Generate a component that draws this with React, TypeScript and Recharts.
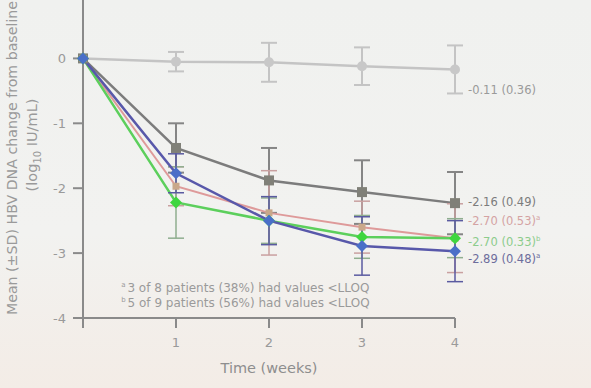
import React from 'react';
import { LineChart, Line, XAxis, YAxis, ErrorBar, ReferenceDot } from 'recharts';

const weeks = [0, 1, 2, 3, 4];
const placebo = [0, -0.05, -0.06, -0.12, -0.17];
const placeboSd = [0, 0.15, 0.3, 0.29, 0.37];
const darkGray = [0, -1.38, -1.88, -2.06, -2.23];
const darkGraySd = [0, 0.38, 0.5, 0.49, 0.48];
const pink = [0, -1.97, -2.38, -2.6, -2.77];
const pinkSd = [0, 0.3, 0.65, 0.4, 0.53];
const green = [0, -2.22, -2.5, -2.75, -2.77];
const greenSd = [0, 0.55, 0.35, 0.33, 0.3];
const blue = [0, -1.77, -2.5, -2.89, -2.97];
const blueSd = [0, 0.3, 0.37, 0.45, 0.47];

const yTicks = [-4, -3, -2, -1, 0];
const xTicks = [0, 1, 2, 3, 4];

const endLabels = [
  { y: -0.49, main: '-0.11 (0.36)', sup: '', color: '#9a9a9a' },
  { y: -2.22, main: '-2.16 (0.49)', sup: '', color: '#7c7c7c' },
  { y: -2.5, main: '-2.70 (0.53)', sup: 'a', color: '#d4a3a3' },
  { y: -2.83, main: '-2.70 (0.33)', sup: 'b', color: '#8ccc8c' },
  { y: -3.09, main: '-2.89 (0.48)', sup: 'a', color: '#6d6d9c' },
];

const footnotes = [
  { y: -3.6, sup: 'a', text: '3 of 8 patients (38%) had values <LLOQ' },
  { y: -3.83, sup: 'b', text: '5 of 9 patients (56%) had values <LLOQ' },
];

const data = weeks.map((w, i) => ({
  week: w,
  placebo: placebo[i], placeboSd: placeboSd[i],
  darkGray: darkGray[i], darkGraySd: darkGraySd[i],
  pink: pink[i], pinkSd: pinkSd[i],
  green: green[i], greenSd: greenSd[i],
  blue: blue[i], blueSd: blueSd[i],
}));

const FONT = '"DejaVu Sans", Verdana, sans-serif';

const circleDot = (color: string, r: number) => (p: any) =>
  p.cx == null ? <g key={p.key} /> : <circle key={p.key} cx={p.cx} cy={p.cy} r={r} fill={color} stroke="none" />;
const squareDot = (color: string, s: number) => (p: any) =>
  p.cx == null ? <g key={p.key} /> : <rect key={p.key} x={p.cx - s / 2} y={p.cy - s / 2} width={s} height={s} fill={color} stroke="none" />;
const diamondDot = (color: string, s: number) => (p: any) =>
  p.cx == null ? <g key={p.key} /> : (
    <path key={p.key} d={`M${p.cx},${p.cy - s} L${p.cx + s},${p.cy} L${p.cx},${p.cy + s} L${p.cx - s},${p.cy} Z`} fill={color} />
  );

const YLabel = () => (
  <g fill="#9a9a9a" fontFamily={FONT}>
    <text transform="translate(17,158) rotate(-90)" textAnchor="middle" fontSize={14.2}>
      Mean (±SD) HBV DNA change from baseline
    </text>
    <text transform="translate(37,145) rotate(-90)" textAnchor="middle" fontSize={14.5}>
      (log<tspan fontSize={10} dy={4}>10</tspan><tspan dy={-4}> IU/mL)</tspan>
    </text>
  </g>
);

const XTick = (p: any) => (
  <text x={p.x} y={p.y} dy={17} textAnchor="middle" fill="#9a9a9a" fontSize={13} fontFamily={FONT}>
    {p.payload.value === 0 ? '' : p.payload.value}
  </text>
);

export default function App() {
  return (
    <div style={{ position: 'absolute', left: 0, top: 0, width: 591, height: 388, background: 'linear-gradient(180deg, #f0f1ef 0%, #f2f2f0 60%, #f3ece6 100%)' }}>
      <LineChart width={591} height={388} data={data} margin={{ top: 0, right: 136, bottom: 40, left: 23 }}>
        <XAxis
          dataKey="week"
          type="number"
          domain={[0, 4]}
          ticks={xTicks}
          stroke="#8a8a8a"
          strokeWidth={2}
          tickSize={10}
          height={30}
          tick={<XTick />}
          label={{ value: 'Time (weeks)', position: 'insideBottom', offset: -25, fill: '#8e8e8e', fontSize: 14.5, fontFamily: FONT }}
        />
        <YAxis
          type="number"
          domain={[-4, 0.9]}
          ticks={yTicks}
          allowDataOverflow
          stroke="#8a8a8a"
          strokeWidth={2}
          tickSize={10}
          tickMargin={7}
          width={60}
          tick={{ fill: '#9a9a9a', fontSize: 13, fontFamily: FONT }}
          label={{ content: () => <YLabel /> }}
        />
        <Line dataKey="placebo" stroke="#c4c4c4" strokeWidth={2.5} isAnimationActive={false} dot={circleDot('#c8c8c8', 5)}>
          <ErrorBar dataKey="placeboSd" stroke="#c4c4c4" strokeWidth={2} width={8} />
        </Line>
        <Line dataKey="darkGray" stroke="#7c7c7c" strokeWidth={2.5} isAnimationActive={false} dot={squareDot('#808078', 10)}>
          <ErrorBar dataKey="darkGraySd" stroke="#858585" strokeWidth={2} width={8} />
        </Line>
        <Line dataKey="pink" stroke="#de9a9a" strokeWidth={2} isAnimationActive={false} dot={squareDot('#c9a88a', 7)}>
          <ErrorBar dataKey="pinkSd" stroke="#c9a0a0" strokeWidth={1.5} width={8} />
        </Line>
        <Line dataKey="green" stroke="#5ccf5c" strokeWidth={2.5} isAnimationActive={false} dot={diamondDot('#3fd63f', 6)}>
          <ErrorBar dataKey="greenSd" stroke="#8fae8f" strokeWidth={1.5} width={8} />
        </Line>
        <Line dataKey="blue" stroke="#5858aa" strokeWidth={2.5} isAnimationActive={false} dot={diamondDot('#4a6fc8', 6)}>
          <ErrorBar dataKey="blueSd" stroke="#5a5aa0" strokeWidth={1.5} width={8} />
        </Line>
        {endLabels.map((l, i) => (
          <ReferenceDot
            key={'e' + i}
            x={4}
            y={l.y}
            ifOverflow="visible"
            shape={(p: any) => (
              <text x={p.cx + 13} y={p.cy} dy={4} fill={l.color} fontSize={11.5} fontFamily={FONT}>
                {l.main}
                {l.sup ? <tspan fontSize={7} dy={-5}>{l.sup}</tspan> : null}
              </text>
            )}
          />
        ))}
        {footnotes.map((f, i) => (
          <ReferenceDot
            key={'f' + i}
            x={0.41}
            y={f.y}
            ifOverflow="visible"
            shape={(p: any) => (
              <text x={p.cx} y={p.cy} dy={4} fill="#9a9a9a" fontSize={12} fontFamily={FONT}>
                <tspan fontSize={7} dy={-5}>{f.sup}</tspan>
                <tspan dy={5} dx={2}>{f.text}</tspan>
              </text>
            )}
          />
        ))}
      </LineChart>
    </div>
  );
}
